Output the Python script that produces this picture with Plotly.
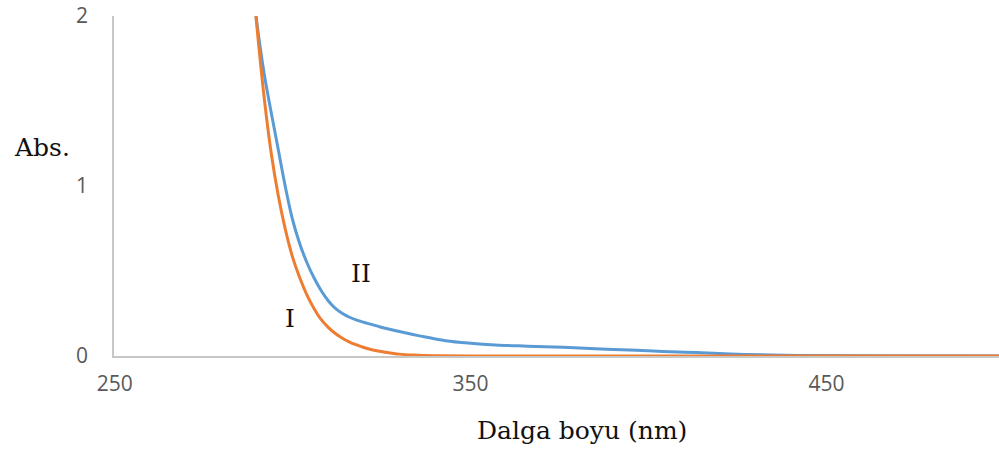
import plotly.graph_objects as go

# Wavelength (nm) and absorbance readings
wl_I = [289.7, 290, 292, 294, 296, 298, 300, 302, 304, 306, 308, 310, 312, 314, 316, 318,
        320, 322, 324, 326, 328, 330, 334, 340, 350, 400, 500]
abs_I = [2.0, 1.93, 1.52, 1.19, 0.94, 0.74, 0.58, 0.46, 0.36, 0.28, 0.215, 0.168, 0.132, 0.104,
         0.082, 0.065, 0.050, 0.038, 0.029, 0.022, 0.016, 0.011, 0.006, 0.002, 0.0, 0.0, 0.0]

wl_II = [289.7, 290, 292, 294, 296, 298, 300, 302, 304, 306, 308, 310, 312, 314, 316, 318,
         321, 324.6, 330, 336, 343, 350, 357, 366, 376, 385, 394.8, 404, 413.5, 423, 432,
         442, 460, 500]
abs_II = [2.0, 1.95, 1.66, 1.43, 1.21, 0.99, 0.80, 0.66, 0.55, 0.46, 0.385, 0.325, 0.28, 0.25,
          0.228, 0.211, 0.192, 0.171, 0.144, 0.117, 0.090, 0.075, 0.065, 0.058, 0.051, 0.043,
          0.035, 0.027, 0.020, 0.012, 0.007, 0.003, 0.001, 0.0]

x_ticks = [250, 350, 450]
y_ticks = [0, 1, 2]

BLUE = "#5B9BD5"
ORANGE = "#ED7D31"

fig = go.Figure()
fig.add_trace(go.Scatter(x=wl_II, y=abs_II, mode="lines", name="II",
                         line=dict(color=BLUE, width=3, shape="spline", smoothing=1.0)))
fig.add_trace(go.Scatter(x=wl_I, y=abs_I, mode="lines", name="I",
                         line=dict(color=ORANGE, width=3, shape="spline", smoothing=1.0)))

serif = "DejaVu Serif"
fig.add_annotation(x=299.3, y=0.223, xref="x", yref="y", text="I", showarrow=False,
                   font=dict(family=serif, size=25, color="#111111"))
fig.add_annotation(x=319.2, y=0.487, xref="x", yref="y", text="II", showarrow=False,
                   font=dict(family=serif, size=25, color="#111111"))
fig.add_annotation(x=-0.1156, y=0.614, xref="paper", yref="paper", xanchor="left", yanchor="middle",
                   text="Abs.", showarrow=False, font=dict(family=serif, size=25, color="#111111"))
fig.add_annotation(x=0.5285, y=-0.220, xref="paper", yref="paper", xanchor="center", yanchor="middle",
                   text="Dalga boyu (nm)", showarrow=False, font=dict(family=serif, size=25, color="#111111"))

fig.update_layout(
    width=999, height=450,
    margin=dict(l=114, r=0, t=16, b=94),
    paper_bgcolor="white", plot_bgcolor="white",
    showlegend=False,
    font=dict(family="Open Sans", size=21, color="#595959"),
)
fig.update_xaxes(range=[249.8, 498.5], tickvals=x_ticks, showgrid=False, zeroline=False,
                 showline=True, linecolor="#C8C8C8", linewidth=1.5, ticks="",
                 ticklabelstandoff=8)
fig.update_yaxes(range=[0, 2], tickvals=y_ticks, showgrid=False, zeroline=False,
                 showline=True, linecolor="#C8C8C8", linewidth=1.5, ticks="",
                 ticklabelstandoff=20)

fig.write_html("out.html")
